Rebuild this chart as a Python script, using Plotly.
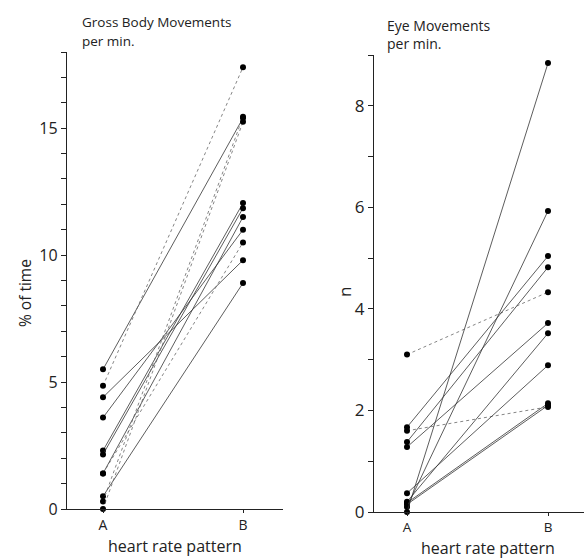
import plotly.graph_objects as go

W, H = 584, 558

categories = ["A", "B"]
cat_x = [0, 1]

# Gross Body Movements (% of time), paired A -> B per subject
gbm_A = [5.5, 4.85, 4.4, 3.6, 2.3, 2.15, 1.4, 1.4, 0.5, 0.3, 0.0]
gbm_B = [15.4, 17.4, 9.8, 11.0, 12.05, 11.85, 11.5, 10.5, 8.9, 15.45, 15.25]
gbm_dash = ["solid", "dot", "solid", "solid", "solid", "solid", "solid", "dot", "solid", "dot", "dot"]
gbm_ticks = list(range(0, 19))
gbm_labels = [str(v) if v % 5 == 0 else "" for v in gbm_ticks]

# Eye Movements per min (n), paired A -> B per subject
eye_A = [3.1, 1.67, 1.6, 1.38, 1.28, 0.37, 0.2, 0.18, 0.15, 0.1, 0.0]
eye_B = [4.33, 5.04, 2.07, 4.82, 3.72, 2.89, 3.52, 2.14, 2.1, 5.93, 8.84]
eye_dash = ["dot", "solid", "dot", "solid", "solid", "solid", "solid", "solid", "solid", "solid", "solid"]
eye_ticks = list(range(0, 10))
eye_labels = [str(v) if v % 2 == 0 else "" for v in eye_ticks]

FONT = "Open Sans"

fig = go.Figure()

for a, b, d in zip(gbm_A, gbm_B, gbm_dash):
    fig.add_trace(go.Scatter(
        x=cat_x, y=[a, b], mode="lines+markers",
        line=dict(color="#333" if d == "solid" else "#666", width=0.8, dash=d),
        marker=dict(color="black", size=6),
        cliponaxis=False, showlegend=False, xaxis="x", yaxis="y"))

for a, b, d in zip(eye_A, eye_B, eye_dash):
    fig.add_trace(go.Scatter(
        x=cat_x, y=[a, b], mode="lines+markers",
        line=dict(color="#333" if d == "solid" else "#666", width=0.8, dash=d),
        marker=dict(color="black", size=6),
        cliponaxis=False, showlegend=False, xaxis="x2", yaxis="y2"))

def px_x(p):
    return p / W

def px_y(p):
    return 1 - p / H

# left panel geometry (pixels)
L_left, L_right, L_top, L_bot = 67, 283, 52, 509
L_A, L_B = 103, 243
# right panel geometry
R_left, R_right, R_top, R_bot = 374, 584, 55, 512
R_A, R_B = 407, 548

def xrange_for(left, right, ax, bx):
    unit = bx - ax
    return [(left - ax) / unit, (right - ax) / unit]

def axis_style(size):
    return dict(showgrid=False, zeroline=False, showline=True, linecolor="#222",
                linewidth=1.3, ticks="outside", tickcolor="#222", automargin=False,
                tickfont=dict(family=FONT, size=size, color="#222"))

fig.update_layout(
    width=W, height=H, margin=dict(l=0, r=0, t=0, b=0),
    plot_bgcolor="white", paper_bgcolor="white",
    xaxis=dict(domain=[px_x(L_left), px_x(L_right)],
               range=xrange_for(L_left, L_right, L_A, L_B),
               tickvals=cat_x, ticktext=categories, ticklen=3, ticklabelstandoff=0,
               anchor="y", **axis_style(14)),
    yaxis=dict(domain=[px_y(L_bot), px_y(L_top)], range=[0, 18],
               tickvals=gbm_ticks, ticktext=gbm_labels, ticklen=5,
               anchor="x", **axis_style(16)),
    xaxis2=dict(domain=[px_x(R_left), px_x(R_right)],
                range=xrange_for(R_left, R_right, R_A, R_B),
                tickvals=cat_x, ticktext=categories, ticklen=3, ticklabelstandoff=0,
                anchor="y2", **axis_style(13.5)),
    yaxis2=dict(domain=[px_y(R_bot), px_y(R_top)], range=[0, 9],
                tickvals=eye_ticks, ticktext=eye_labels, ticklen=5,
                anchor="x2", **axis_style(17)),
)

def ann(text, x, y, size=14, xanchor="left", angle=0, yanchor="middle"):
    fig.add_annotation(text=text, x=px_x(x), y=px_y(y), xref="paper", yref="paper",
                       showarrow=False, xanchor=xanchor, yanchor=yanchor,
                       textangle=angle, borderpad=0,
                       font=dict(family=FONT, size=size, color="#222"))

ann("Gross Body Movements", 81, 22, 13.5)
ann("per min.", 81, 41, 13.5)
ann("Eye Movements", 386, 25, 14)
ann("per min.", 386, 44, 14)
ann("heart rate pattern", 175, 546, 16, xanchor="center")
ann("heart rate pattern", 488, 547.5, 16, xanchor="center")
ann("% of time", 25, 293, 15.5, xanchor="center", angle=-90)
ann("n", 344, 292, 17, xanchor="center", angle=-90)

fig.write_html("out.html")
